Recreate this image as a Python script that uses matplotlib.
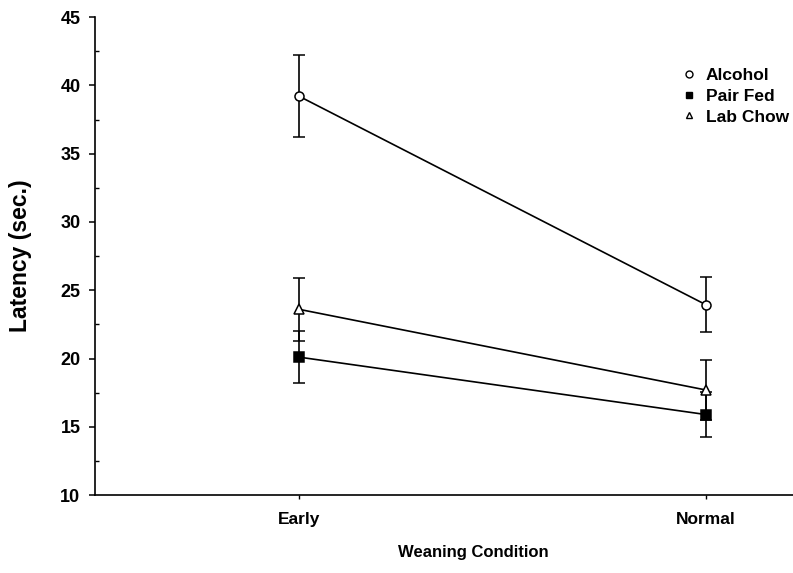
import matplotlib
matplotlib.use("Agg")
from matplotlib import pyplot as plt
from matplotlib.ticker import MultipleLocator
from matplotlib.lines import Line2D

plt.rcParams["font.family"] = ["Liberation Sans", "DejaVu Sans"]
plt.rcParams["font.weight"] = "bold"

# data
conditions = ["Early", "Normal"]
alcohol = [39.2, 23.95]
alcohol_err = [3.0, 2.0]
pair_fed = [20.1, 15.9]
pair_fed_err = [1.9, 1.65]
lab_chow = [23.6, 17.7]
lab_chow_err = [2.3, 2.2]

x = list(range(len(conditions)))

fig = plt.figure(figsize=(7.93, 5.73), dpi=100)
ax = fig.add_axes([0.1198, 0.136, 0.8802, 0.834])

style = dict(color="black", lw=1.2, elinewidth=1.2, capsize=4, capthick=1.2, markersize=6.5,
             markeredgewidth=1.1, markeredgecolor="black")
ax.errorbar(x, alcohol, yerr=alcohol_err, marker="o", markerfacecolor="white", zorder=3, **style)
ax.errorbar(x, lab_chow, yerr=lab_chow_err, marker="^", markerfacecolor="white", zorder=3, **style)
ax.errorbar(x, pair_fed, yerr=pair_fed_err, marker="s", markerfacecolor="black", zorder=3, **style)

ax.set_xlim(-0.503, 1.215)
ax.set_ylim(10, 45)
ax.set_xticks(x)
ax.set_xticklabels(conditions)
ax.yaxis.set_major_locator(MultipleLocator(5))
ax.yaxis.set_minor_locator(MultipleLocator(2.5))
ax.tick_params(axis="y", which="major", direction="out", length=4.5, width=1.1, labelsize=13, pad=6)
ax.tick_params(axis="y", which="minor", direction="in", length=3, width=1)
ax.tick_params(axis="x", direction="out", length=3, width=1, labelsize=12.5, pad=9)
for lab in ax.get_xticklabels() + ax.get_yticklabels():
    lab.set_fontweight("bold")

ax.spines["top"].set_visible(False)
ax.spines["right"].set_visible(False)
ax.spines["left"].set_linewidth(1.2)
ax.spines["bottom"].set_linewidth(1.2)

fig.text(21 / 793, 0.553, "Latency (sec.)", rotation=90, ha="center", va="center",
         fontsize=16.5, fontweight="bold")
fig.text(473 / 793, 0.028, "Weaning Condition", ha="center", va="baseline",
         fontsize=12, fontweight="bold")

handles = [
    Line2D([], [], ls="none", marker="o", markerfacecolor="white", markeredgecolor="black", markersize=5),
    Line2D([], [], ls="none", marker="s", markerfacecolor="black", markeredgecolor="black", markersize=5),
    Line2D([], [], ls="none", marker="^", markerfacecolor="white", markeredgecolor="black", markersize=5),
]
leg = fig.legend(handles, ["Alcohol", "Pair Fed", "Lab Chow"], loc="upper left",
                 bbox_to_anchor=(680 / 793, 0.8814), frameon=False, handlelength=1.0,
                 handletextpad=0.5, labelspacing=0.32, borderpad=0, borderaxespad=0,
                 prop={"size": 12.5, "weight": "bold"})

plt.savefig("out.png", dpi=100)
